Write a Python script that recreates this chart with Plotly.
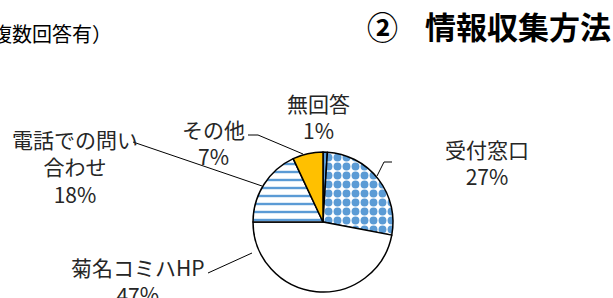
import plotly.graph_objects as go

W, H = 613, 298

# ---- data ----
categories = ["無回答", "受付窓口", "菊名コミハHP", "電話での問い合わせ", "その他"]
values = [1, 27, 47, 18, 7]
label_texts = ["無回答<br>1%", "受付窓口<br>27%", "菊名コミハHP<br>47%", "電話での問い<br>合わせ<br>18%", "その他<br>7%"]
title_num = "②"
title_text = "情報収集方法"
note_text = "（複数回答有）"

# ---- styles ----
fills = ["#5B9BD5", "#FFFFFF", "#FFFFFF", "#FFFFFF", "#FFC000"]
pat_shapes = ["", ".", "", "-", ""]
pat_fg = ["#5B9BD5", "#5B9BD5", "#FFFFFF", "#5B9BD5", "#FFC000"]
pat_bg = ["#5B9BD5", "#FFFFFF", "#FFFFFF", "#FFFFFF", "#FFC000"]
pat_size = [8, 9, 8, 8, 8]
pat_solid = [0.3, 0.6, 0.3, 0.3, 0.3]

FONT = "Noto Sans CJK JP"
TXT = "#262626"

def px(x):
    return x / W

def py(y):
    return 1 - y / H

# pie geometry (pixels)
cx, cy, r = 323, 222, 70

fig = go.Figure()
fig.add_trace(go.Pie(
    labels=categories,
    values=values,
    sort=False,
    direction="clockwise",
    rotation=0,
    textinfo="none",
    hoverinfo="label+percent",
    showlegend=False,
    marker=dict(
        colors=fills,
        line=dict(color="#000000", width=1.5),
        pattern=dict(shape=pat_shapes, fgcolor=pat_fg, bgcolor=pat_bg,
                     size=pat_size, solidity=pat_solid, fillmode="replace",
                     fgopacity=1),
    ),
    domain=dict(x=[px(cx - r), px(cx + r)], y=[py(cy + r), py(cy - r)]),
))

# label positions (pixel centres)
label_pos = {
    "無回答": (318, 117),
    "受付窓口": (487, 162),
    "菊名コミハHP": (138, 280),
    "電話での問い合わせ": (75, 166),
    "その他": (213, 143),
}
annotations = []
for cat, txt in zip(categories, label_texts):
    x, y = label_pos[cat]
    annotations.append(dict(
        x=px(x), y=py(y), xref="paper", yref="paper", text=txt,
        showarrow=False, xanchor="center", yanchor="middle",
        font=dict(family=FONT, size=21, color=TXT), align="center",
    ))

annotations.append(dict(
    x=px(365), y=py(25), xref="paper", yref="paper", text="<b>" + title_num + "</b>",
    showarrow=False, xanchor="left", yanchor="middle",
    font=dict(family=FONT, size=31, color="#000000"),
))
annotations.append(dict(
    x=px(613), y=py(25), xref="paper", yref="paper", text="<b>" + title_text + "</b>",
    showarrow=False, xanchor="right", yanchor="middle",
    font=dict(family=FONT, size=31, color="#000000"),
))
annotations.append(dict(
    x=px(114), y=py(33), xref="paper", yref="paper", text=note_text,
    showarrow=False, xanchor="right", yanchor="middle",
    font=dict(family=FONT, size=20, color="#000000"),
))

# leader lines (pixel polylines)
leaders = [
    [(392, 162), (384, 162), (377, 176)],
    [(248, 135), (258, 135), (303, 154)],
    [(133, 142), (262, 186)],
    [(208, 273), (252, 253)],
]
shapes = []
for pts in leaders:
    path = "M " + " L ".join(f"{px(x)},{py(y)}" for x, y in pts)
    shapes.append(dict(type="path", path=path, xref="paper", yref="paper",
                       line=dict(color="#000000", width=1)))

fig.update_layout(
    width=W, height=H,
    margin=dict(l=0, r=0, t=0, b=0),
    paper_bgcolor="#FFFFFF", plot_bgcolor="#FFFFFF",
    annotations=annotations,
    shapes=shapes,
    font=dict(family=FONT),
)

fig.write_html("out.html", config={"displayModeBar": False},
               post_script="document.body.style.margin='0';")
